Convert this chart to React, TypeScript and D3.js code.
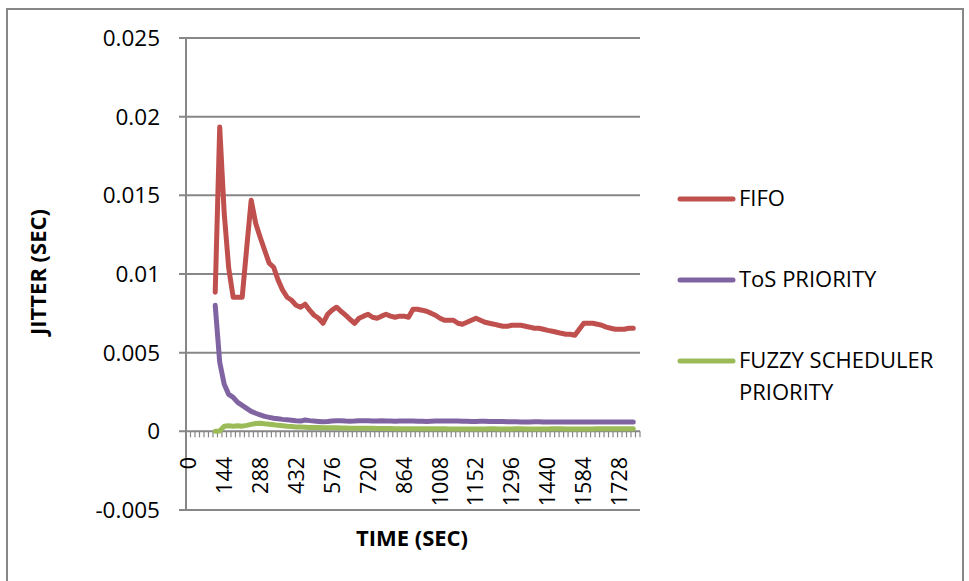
import React from "react";
import * as d3 from "d3";

const times: number[] = d3.range(0, 1801, 18);
const dataStart = 108;
const xTickLabels = ["0", "144", "288", "432", "576", "720", "864", "1008", "1152", "1296", "1440", "1584", "1728"];
const yTicks = [-0.005, 0, 0.005, 0.01, 0.015, 0.02, 0.025];
const yTickLabels = ["-0.005", "0", "0.005", "0.01", "0.015", "0.02", "0.025"];

const fifo = [
  0.00884, 0.01934, 0.01387, 0.01037, 0.00852, 0.00852, 0.00852, 0.01164, 0.01469, 0.01323,
  0.01234, 0.01151, 0.01069, 0.01043, 0.00961, 0.00897, 0.00852, 0.00833, 0.00801, 0.00789,
  0.00808, 0.0077, 0.00738, 0.00719, 0.00687, 0.00744, 0.0077, 0.00789, 0.00763, 0.00738,
  0.00712, 0.00687, 0.00719, 0.00732, 0.00744, 0.00725, 0.00719, 0.00732, 0.00744, 0.00732,
  0.00725, 0.00732, 0.00732, 0.00725, 0.00776, 0.00776, 0.0077, 0.00763, 0.00751, 0.00738,
  0.00719, 0.00706, 0.00706, 0.00706, 0.00687, 0.00681, 0.00693, 0.00706, 0.00719, 0.00706,
  0.00693, 0.00687, 0.00681, 0.00674, 0.00668, 0.00668, 0.00674, 0.00674, 0.00674, 0.00668,
  0.00662, 0.00655, 0.00655, 0.00649, 0.00642, 0.00636, 0.0063, 0.00623, 0.00617, 0.00617,
  0.00611, 0.00649, 0.00687, 0.00687, 0.00687, 0.00681, 0.00674, 0.00662, 0.00655, 0.00649,
  0.00649, 0.00649, 0.00655, 0.00655,
];

const tos = [
  0.00801, 0.00439, 0.00299, 0.00235, 0.00216, 0.00184, 0.00165, 0.00146, 0.00127, 0.00115,
  0.00105, 0.00095, 0.00089, 0.00083, 0.0008, 0.00076, 0.00073, 0.0007, 0.00067, 0.00065,
  0.00072, 0.00068, 0.00065, 0.00063, 0.00061, 0.00062, 0.00066,
  0.00068, 0.00067, 0.00065, 0.00064, 0.00065, 0.00067, 0.00068, 0.00067, 0.00066, 0.00066,
  0.00067, 0.00066, 0.00065, 0.00064, 0.00065, 0.00066, 0.00066, 0.00065, 0.00064, 0.00064,
  0.00063, 0.00064, 0.00065, 0.00066, 0.00066, 0.00066, 0.00065, 0.00065, 0.00064, 0.00064,
  0.00063, 0.00063, 0.00064, 0.00064, 0.00063, 0.00062, 0.00062, 0.00062, 0.00061, 0.00061,
  0.00061, 0.0006, 0.0006, 0.0006, 0.00061, 0.00061, 0.0006, 0.0006, 0.00059, 0.00059,
  0.00059, 0.00059, 0.0006, 0.0006, 0.0006, 0.00059, 0.00059, 0.00059, 0.00059, 0.0006,
  0.0006, 0.0006, 0.00059, 0.00059, 0.0006, 0.0006, 0.0006,
];

const fuzzy = [
  0.0, 0.00002, 0.00032, 0.00035, 0.00033, 0.00035, 0.00033, 0.00038, 0.00044, 0.0005,
  0.00052, 0.00048, 0.00045, 0.00042, 0.00038, 0.00035, 0.00032, 0.0003, 0.00028, 0.00027,
  0.00026, 0.00025, 0.00025, 0.00024, 0.00023, 0.00023, 0.00022, 0.00022, 0.00021, 0.00021,
  0.0002, 0.0002, 0.0002, 0.00019, 0.00019, 0.00019, 0.00018, 0.00018, 0.00018, 0.00018,
  0.00017, 0.00017, 0.00017, 0.00017, 0.00017, 0.00016, 0.00016, 0.00016, 0.00016, 0.00016,
  0.00016, 0.00016, 0.00015, 0.00015, 0.00015, 0.00015, 0.00015, 0.00015, 0.00015, 0.00015,
  0.00015, 0.00016, 0.00016, 0.00015, 0.00015, 0.00015, 0.00015, 0.00016, 0.00016, 0.00015,
  0.00015, 0.00015, 0.00015, 0.00015, 0.00015, 0.00016, 0.00016, 0.00016, 0.00015, 0.00015,
  0.00015, 0.00015, 0.00015, 0.00015, 0.00015, 0.00016, 0.00016, 0.00016, 0.00016, 0.00016,
  0.00016, 0.00016, 0.00016, 0.00016,
];

const seriesNames = ["FIFO", "ToS PRIORITY", "FUZZY SCHEDULER|PRIORITY"];
const colors = ["#C0504D", "#8064A2", "#9BBB59"];

const FONT = "'Open Sans', sans-serif";
const GRID = "#878787";

export default function App() {
  const W = 969, H = 581;
  const x = d3.scaleBand<number>().domain(times).range([186, 640]).padding(0);
  const y = d3.scaleLinear().domain([-0.005, 0.025]).range([510, 38]);
  const startIdx = times.indexOf(dataStart);
  const cx = (t: number) => (x(t) as number) + x.bandwidth() / 2;
  const line = d3
    .line<number>()
    .x((_, i) => cx(times[startIdx + i]))
    .y((v) => y(v));
  const series = [fifo, tos, fuzzy];
  const tickBoundaries = d3.range(times.length + 1).map((i) => 186 + i * x.bandwidth());

  return (
    <svg width={W} height={H} style={{ position: "absolute", left: 0, top: 0 }} fontFamily={FONT}>
      <rect x={0} y={0} width={W} height={H} fill="#fff" />
      <rect x={7} y={9} width={956} height={600} fill="#fff" stroke={GRID} strokeWidth={2} />
      {yTicks.map((t) => (
        <line key={"g" + t} x1={179} x2={640} y1={y(t)} y2={y(t)} stroke={GRID} strokeWidth={2} />
      ))}
      <line x1={186} x2={186} y1={y(0.025)} y2={y(-0.005)} stroke={GRID} strokeWidth={2} />
      {yTicks.map((t, i) => (
        <text key={"yl" + t} x={160} y={y(t)} dy="0.35em" textAnchor="end" fontSize={22.5} fill="#000">
          {yTickLabels[i]}
        </text>
      ))}
      {tickBoundaries.map((bx, i) => (
        <line key={"xt" + i} x1={bx} x2={bx} y1={y(0)} y2={y(0) + 6} stroke={GRID} strokeWidth={1.2} />
      ))}
      {xTickLabels.map((lab) => {
        const t = +lab;
        return (
          <text
            key={"xl" + lab}
            transform={`translate(${cx(t)},457) rotate(-90)`}
            textAnchor="end"
            dy="0.35em"
            fontSize={21.5}
            fill="#000"
          >
            {lab}
          </text>
        );
      })}
      {series.map((s, i) => (
        <path
          key={"s" + i}
          d={line(s) as string}
          fill="none"
          stroke={colors[i]}
          strokeWidth={5}
          strokeLinejoin="round"
          strokeLinecap="round"
        />
      ))}
      <text x={412} y={546} textAnchor="middle" fontSize={22} fontWeight="bold" fill="#000">
        TIME (SEC)
      </text>
      <text transform="translate(46,272) rotate(-90)" textAnchor="middle" fontSize={22} fontWeight="bold" fill="#000">
        JITTER (SEC)
      </text>
      {seriesNames.map((name, i) => {
        const ly = [199, 280, 361][i];
        const parts = name.split("|");
        return (
          <g key={"lg" + i}>
            <line x1={680} x2={733} y1={ly} y2={ly} stroke={colors[i]} strokeWidth={5} strokeLinecap="round" />
            {parts.map((p, j) => (
              <text key={j} x={739} y={ly + 7 + j * 32} fontSize={22} fill="#000">
                {p}
              </text>
            ))}
          </g>
        );
      })}
    </svg>
  );
}
